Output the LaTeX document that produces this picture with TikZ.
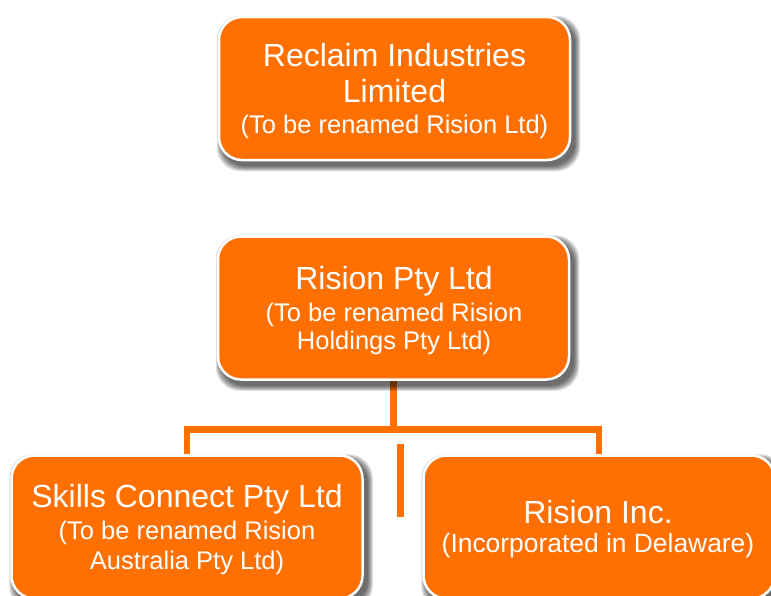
\documentclass[tikz,border=0pt]{standalone}
\usepackage{fontspec}
\setmainfont{Liberation Sans}
\pgfdeclarelayer{paper}
\pgfdeclarelayer{lines}
\pgfdeclarelayer{shade}
\pgfsetlayers{paper,lines,shade,main}
\definecolor{rorange}{RGB}{255,112,0}
\tikzset{
  orgbox/.style={rectangle, rounded corners=23pt, minimum width=351pt, minimum height=143pt,
    fill=rorange, draw=white, line width=2.5pt},
  shadowpiece/.style={fill=black, fill opacity=0.13, rounded corners=24pt},
  ttl/.style={anchor=base, text=white, inner sep=0pt, font=\fontsize{32}{36}\selectfont},
  sub/.style={anchor=base, text=white, inner sep=0pt, font=\fontsize{25.5}{30}\selectfont},
  subwide/.style={sub, font=\fontsize{26.4}{30}\selectfont},
  conn/.style={draw=rorange, line width=6.5pt, line join=miter, line cap=butt}
}
\begin{document}
\begin{tikzpicture}[x=1pt,y=-1pt]
\useasboundingbox (0,0) rectangle (771,595);
\begin{pgfonlayer}{paper}
\fill[white] (0,0) rectangle (771,595);
\end{pgfonlayer}
% boxes
\node[orgbox] (top) at (394.5,88.5) {};
\node[orgbox] (mid) at (393.5,308) {};
\node[orgbox] (left) at (187,527) {};
\node[orgbox] (right) at (599,527) {};
% shadows
\begin{pgfonlayer}{shade}
\foreach \n in {top,mid,left,right}{
  \foreach \e in {5,4,3,2,1,0}{
    \fill[shadowpiece] ([shift={(4-\e,5-\e)}]\n.north west) rectangle ([shift={(4+\e,5+\e)}]\n.south east);
  }
}
\end{pgfonlayer}
% connectors
\begin{pgfonlayer}{lines}
\coordinate (j) at (393.5,429.5);
\coordinate (b1) at (400.3,444);
\coordinate (b2) at (400.3,517);
\draw[conn] (mid.south) -- (j);
\draw[conn] (left.north) -- (left.north |- j) -- (right.north |- j) -- (right.north);
\draw[conn] (b1) -- (b2);
\end{pgfonlayer}
% texts
\node[ttl] (t1) at (394.5,66) {Reclaim Industries};
\node[ttl] (t2) at (394.5,102) {Limited};
\node[sub] (t3) at (394.5,133) {(To be renamed Rision Ltd)};
\node[ttl] (m1) at (394,289) {Rision Pty Ltd};
\node[sub] (m2) at (394,321) {(To be renamed Rision};
\node[sub] (m3) at (394,349.5) {Holdings Pty Ltd)};
\node[ttl] (l1) at (187,507) {Skills Connect Pty Ltd};
\node[sub] (l2) at (187,539) {(To be renamed Rision};
\node[sub] (l3) at (187,569) {Australia Pty Ltd)};
\node[ttl] (r1) at (598,523) {Rision Inc.};
\node[subwide] (r2) at (598,552) {(Incorporated in Delaware)};
\end{tikzpicture}
\end{document}
